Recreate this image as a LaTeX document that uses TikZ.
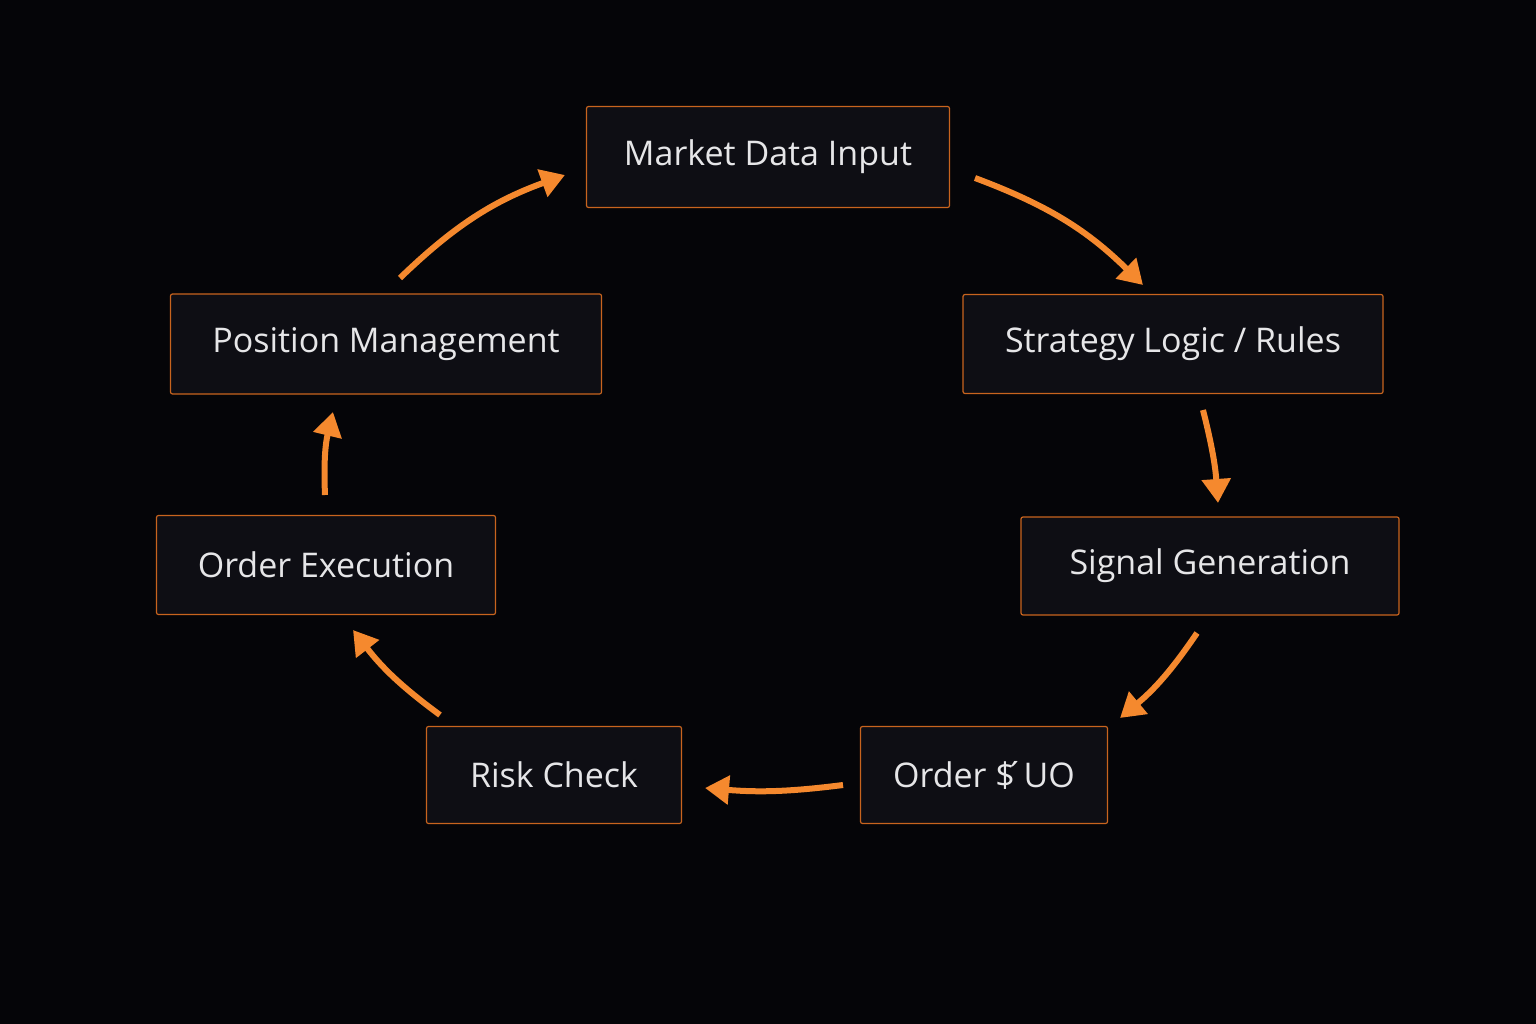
\documentclass[tikz,border=0pt]{standalone}
\usepackage{fontspec}
\setmainfont{Open Sans}
\usetikzlibrary{arrows.meta}
\definecolor{bg}{HTML}{050508}
\definecolor{boxfill}{HTML}{0E0E14}
\definecolor{boxline}{HTML}{C8641E}
\definecolor{arr}{HTML}{F5892E}
\definecolor{txt}{HTML}{E6E6E8}
\begin{document}
\begin{tikzpicture}[x=1pt,y=-1pt,
  box/.style={draw=boxline,line width=1.2pt,fill=boxfill,rounded corners=2pt,inner sep=0pt,
    text=txt,font=\fontsize{34}{40}\selectfont},
  flow/.style={draw=arr,line width=6pt,-{Triangle[length=24pt,width=28pt]}}]
\fill[bg] (0,0) rectangle (1536,1024);
\useasboundingbox (0,0) rectangle (1536,1024);
\node[box,minimum width=363pt,minimum height=101pt] (m) at (768,157) {Market Data Input};
\node[box,minimum width=420pt,minimum height=99pt] (s) at (1173,344) {Strategy Logic / Rules};
\node[box,minimum width=378pt,minimum height=98pt] (g) at (1210,566) {Signal Generation};
\node[box,minimum width=247pt,minimum height=97pt] (o) at (984,775) {Order \$\'{}UO};
\node[box,minimum width=255pt,minimum height=97pt] (r) at (554,775) {Risk Check};
\node[box,minimum width=339pt,minimum height=99pt] (e) at (326,565) {Order Execution};
\node[box,minimum width=431pt,minimum height=100pt] (p) at (386,344) {Position Management};
\coordinate (a1) at (975,178); \coordinate (b1) at (1143,285);
\coordinate (a2) at (1203,410); \coordinate (b2) at (1218,503);
\coordinate (a3) at (1197,633); \coordinate (b3) at (1120,718);
\coordinate (a4) at (843,785); \coordinate (b4) at (705,788);
\coordinate (a5) at (440,715); \coordinate (b5) at (353,630);
\coordinate (a6) at (325,495); \coordinate (b6) at (333,412);
\coordinate (a7) at (400,278); \coordinate (b7) at (565,175);
\draw[flow] (a1) to[bend left=12] (b1);
\draw[flow] (a2) to[bend left=5] (b2);
\draw[flow] (a3) to[bend left=8] (b3);
\draw[flow] (a4) to[bend left=6] (b4);
\draw[flow] (a5) to[bend left=8] (b5);
\draw[flow] (a6) to[bend left=8] (b6);
\draw[flow] (a7) to[bend left=12] (b7);
\end{tikzpicture}
\end{document}
